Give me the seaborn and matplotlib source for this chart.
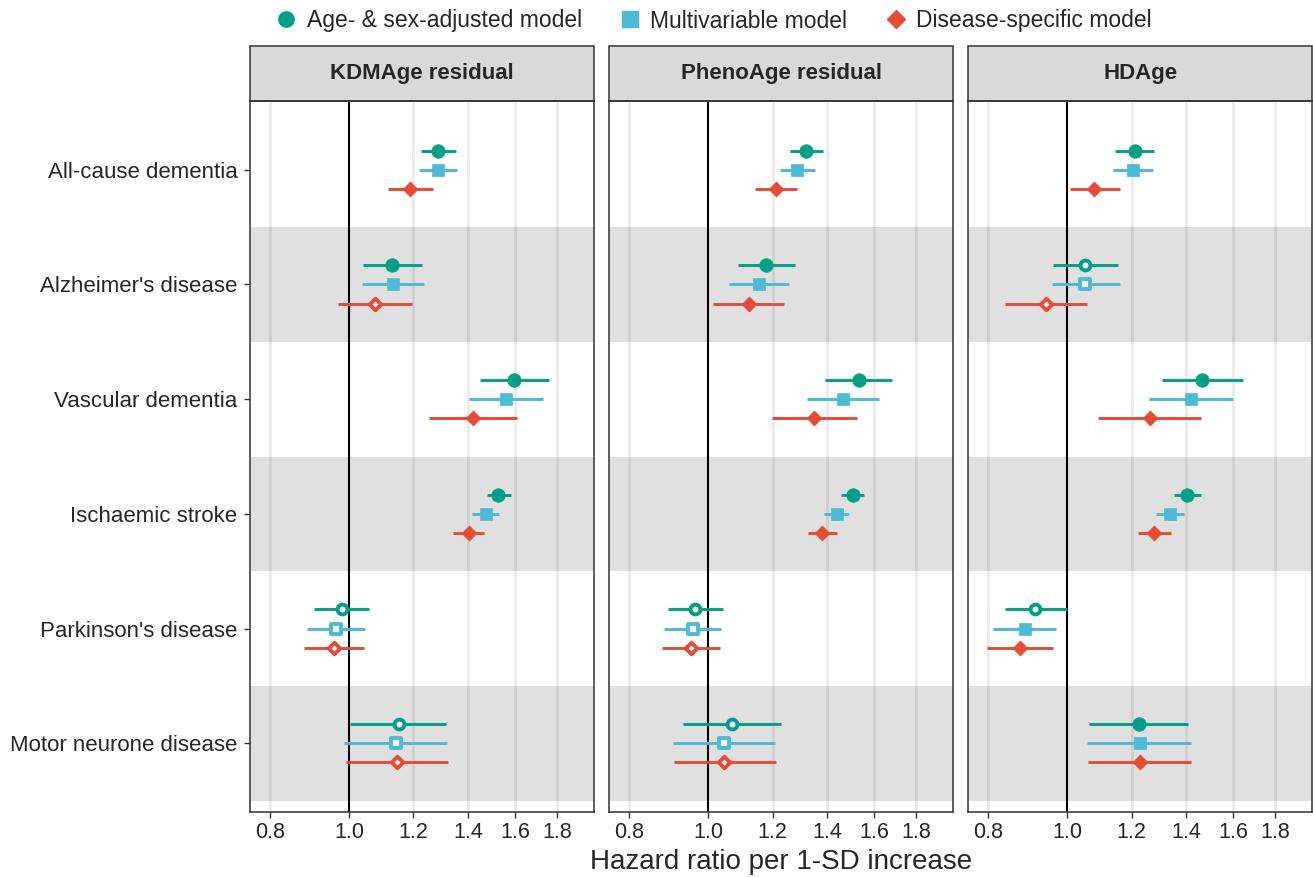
import matplotlib.pyplot as plt
import matplotlib.patches as mpatches
from matplotlib.lines import Line2D
import numpy as np
import pandas as pd
import seaborn as sns

diseases = ["All-cause dementia", "Alzheimer's disease", "Vascular dementia",
            "Ischaemic stroke", "Parkinson's disease", "Motor neurone disease"]
panels = ["KDMAge residual", "PhenoAge residual", "HDAge"]
models = ["Age- & sex-adjusted model", "Multivariable model", "Disease-specific model"]

# KDMAge residual
kdm_age_hr = [1.287, 1.130, 1.594, 1.526, 0.980, 1.151]
kdm_age_lo = [1.225, 1.041, 1.447, 1.476, 0.907, 1.003]
kdm_age_hi = [1.354, 1.228, 1.760, 1.580, 1.058, 1.316]
kdm_mv_hr = [1.286, 1.132, 1.558, 1.473, 0.965, 1.141]
kdm_mv_lo = [1.220, 1.038, 1.403, 1.418, 0.888, 0.987]
kdm_mv_hi = [1.357, 1.236, 1.730, 1.528, 1.047, 1.321]
kdm_ds_hr = [1.190, 1.075, 1.420, 1.403, 0.959, 1.145]
kdm_ds_lo = [1.117, 0.970, 1.255, 1.343, 0.881, 0.991]
kdm_ds_hi = [1.268, 1.194, 1.610, 1.463, 1.044, 1.325]

# PhenoAge residual
pheno_age_hr = [1.320, 1.179, 1.532, 1.505, 0.964, 1.071]
pheno_age_lo = [1.259, 1.088, 1.393, 1.458, 0.892, 0.932]
pheno_age_hi = [1.385, 1.279, 1.684, 1.556, 1.042, 1.228]
pheno_mv_hr = [1.287, 1.154, 1.466, 1.438, 0.957, 1.046]
pheno_mv_lo = [1.224, 1.061, 1.324, 1.389, 0.882, 0.905]
pheno_mv_hi = [1.354, 1.256, 1.620, 1.489, 1.037, 1.210]
pheno_ds_hr = [1.211, 1.122, 1.351, 1.381, 0.952, 1.047]
pheno_ds_lo = [1.141, 1.015, 1.197, 1.326, 0.877, 0.907]
pheno_ds_hi = [1.287, 1.241, 1.523, 1.439, 1.034, 1.211]

# HDAge
hd_age_hr = [1.210, 1.052, 1.466, 1.403, 0.914, 1.224]
hd_age_lo = [1.145, 0.961, 1.308, 1.351, 0.839, 1.063]
hd_age_hi = [1.280, 1.156, 1.644, 1.458, 1.000, 1.409]
hd_mv_hr = [1.204, 1.053, 1.421, 1.336, 0.888, 1.227]
hd_mv_lo = [1.137, 0.957, 1.262, 1.286, 0.811, 1.057]
hd_mv_hi = [1.275, 1.162, 1.600, 1.393, 0.970, 1.419]
hd_ds_hr = [1.080, 0.941, 1.263, 1.280, 0.875, 1.228]
hd_ds_lo = [1.008, 0.838, 1.092, 1.222, 0.798, 1.060]
hd_ds_hi = [1.160, 1.059, 1.458, 1.340, 0.962, 1.421]

# filled marker = significant
kdm_filled = [[1, 1, 1, 1, 0, 0], [1, 1, 1, 1, 0, 0], [1, 0, 1, 1, 0, 0]]
pheno_filled = [[1, 1, 1, 1, 0, 0], [1, 1, 1, 1, 0, 0], [1, 1, 1, 1, 0, 0]]
hd_filled = [[1, 0, 1, 1, 0, 1], [1, 0, 1, 1, 1, 1], [1, 0, 1, 1, 1, 1]]

tick_vals = [0.8, 1.0, 1.2, 1.4, 1.6, 1.8]

all_data = {
    panels[0]: [(kdm_age_hr, kdm_age_lo, kdm_age_hi), (kdm_mv_hr, kdm_mv_lo, kdm_mv_hi),
                (kdm_ds_hr, kdm_ds_lo, kdm_ds_hi), kdm_filled],
    panels[1]: [(pheno_age_hr, pheno_age_lo, pheno_age_hi), (pheno_mv_hr, pheno_mv_lo, pheno_mv_hi),
                (pheno_ds_hr, pheno_ds_lo, pheno_ds_hi), pheno_filled],
    panels[2]: [(hd_age_hr, hd_age_lo, hd_age_hi), (hd_mv_hr, hd_mv_lo, hd_mv_hi),
                (hd_ds_hr, hd_ds_lo, hd_ds_hi), hd_filled],
}

rows = []
for p in panels:
    d = all_data[p]
    for m_i, m in enumerate(models):
        hr, lo, hi = d[m_i]
        for k, dis in enumerate(diseases):
            rows.append(dict(panel=p, model=m, disease=dis, hr=hr[k], lo=lo[k], hi=hi[k],
                             filled=bool(d[3][m_i][k])))
df = pd.DataFrame(rows)

colors = {models[0]: "#00A087", models[1]: "#4DBBD5", models[2]: "#E64B35"}
markers = {models[0]: "o", models[1]: "s", models[2]: "D"}
sizes = {models[0]: 95, models[1]: 80, models[2]: 58}
open_sizes = {models[0]: 50, models[1]: 44, models[2]: 34}
offsets = {models[0]: 0.167, models[1]: 0.0, models[2]: -0.167}

sns.set_theme(style="white")
plt.rcParams["font.family"] = ["Liberation Sans", "DejaVu Sans"]

fig, axes = plt.subplots(1, 3, figsize=(13.13, 8.77), dpi=100, sharey=True)
fig.subplots_adjust(left=0.1904, right=0.9995, bottom=0.0741, top=1 - 101 / 877, wspace=0.0436)

ypos_map = {dis: len(diseases) - i for i, dis in enumerate(diseases)}
df["y"] = df["disease"].map(ypos_map) + df["model"].map(offsets)

for ax, p in zip(axes, panels):
    sub = df[df["panel"] == p]
    ax.set_xscale("log")
    ax.set_xlim(0.756, 2.0)
    ax.set_ylim(0.4, 6.6)
    # alternating bands
    for dis, yv in ypos_map.items():
        if yv % 2 == 1:
            ax.axhspan(yv - 0.5, yv + 0.5, color="#E0E0E0", zorder=0, lw=0)
    for t in tick_vals:
        if t != 1.0:
            ax.axvline(t, color="black", alpha=0.08, lw=2, zorder=0.5)
    ax.axvline(1.0, color="black", lw=1.5, zorder=1)

    for m in models:
        ms = sub[sub["model"] == m]
        ax.hlines(ms["y"], ms["lo"], ms["hi"], color=colors[m], lw=2.1, zorder=2)
        f = ms[ms["filled"]]
        o = ms[~ms["filled"]]
        if len(f):
            sns.scatterplot(data=f, x="hr", y="y", marker=markers[m], s=sizes[m],
                            color=colors[m], edgecolor=colors[m], linewidth=0.5,
                            ax=ax, zorder=3, legend=False)
        if len(o):
            ax.scatter(o["hr"], o["y"], marker=markers[m], s=open_sizes[m],
                       facecolors="white", edgecolors=colors[m], linewidths=2.8, zorder=3)

    ax.set_xticks(tick_vals)
    ax.set_xticklabels([f"{t:.1f}" for t in tick_vals])
    ax.set_xticks([], minor=True)
    ax.set_xlabel("")
    ax.set_ylabel("")
    ax.tick_params(axis="x", labelsize=15.5, length=4, width=1, color="#333333",
                   bottom=True, pad=3)
    for s in ax.spines.values():
        s.set_color("#333333")
        s.set_linewidth(1.1)
    # facet strip
    strip = mpatches.Rectangle((0, 1), 1, 55 / 711, transform=ax.transAxes, clip_on=False,
                               facecolor="#D9D9D9", edgecolor="#333333", lw=1.1)
    ax.add_patch(strip)
    ax.text(0.5, 1 + 27.5 / 711, p, transform=ax.transAxes, ha="center", va="center",
            fontsize=16, fontweight="bold")

axes[0].set_yticks([ypos_map[d] for d in diseases])
axes[0].set_yticklabels(diseases)
axes[0].tick_params(axis="y", labelsize=16, length=4, width=1, color="#333333", left=True, pad=5)
for ax in axes[1:]:
    ax.tick_params(axis="y", left=False, labelleft=False)

fig.text(781 / 1313, 1 - 862 / 877, "Hazard ratio per 1-SD increase", ha="center",
         va="center", fontsize=20)

handles = [Line2D([], [], ls="", marker=markers[m], color=colors[m],
                  markersize=11 if m != models[2] else 9.5) for m in models]
fig.legend(handles, models, loc="center", bbox_to_anchor=(712 / 1313, 1 - 21 / 877), ncol=3,
           frameon=False, fontsize=16.5, handletextpad=0.3, columnspacing=1.5, handlelength=1.2)

fig.savefig("out.png", dpi=100)
